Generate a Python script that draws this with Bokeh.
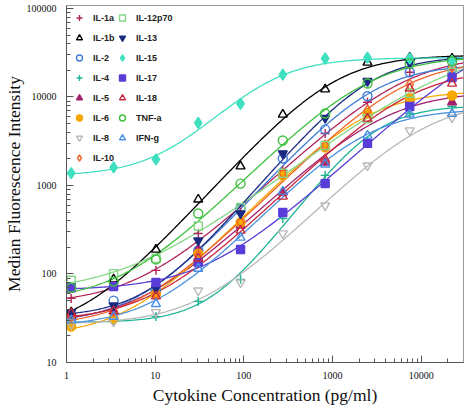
import numpy as np
from bokeh.plotting import figure
from bokeh.models import FixedTicker, PrintfTickFormatter, Legend, LegendItem
from bokeh.embed import file_html
from bokeh.resources import INLINE

# ---------------- data ----------------
concentrations = [1.13, 3.4, 10.2, 30.6, 91.8, 275, 826, 2480, 7430, 22300]

series_names = ["IL-1a", "IL-1b", "IL-2", "IL-4", "IL-5", "IL-6", "IL-8", "IL-10",
                "IL-12p70", "IL-13", "IL-15", "IL-17", "IL-18", "TNF-a", "IFN-g"]

il1a = [53, 72, 110, 287, 495, 1480, 3870, 8730, 19000, 21000]
il1b = [37, 87, 189, 695, 1650, 6340, 12200, 24500, 27900, 27200]
il2 = [31, 50, 65, 184, 550, 2020, 4300, 10200, 19000, 21000]
il4 = [27.6, 30, 33, 49, 87, 424, 1300, 3220, 6510, 7810]
il5 = [34, 38, 65, 189, 353, 834, 1820, 6510, 9370, 8730]
il6 = [25.5, 31, 59, 170, 382, 1300, 2690, 6510, 9620, 10400]
il8 = [27, 29, 37, 65, 80, 287, 594, 1680, 4180, 5870]
il10 = [33, 38, 60, 162, 385, 1370, 2830, 7030, 13800, 21700]
il12p70 = [85, 101, 150, 349, 564, 1370, 2830, 5670, 11000, 19000]
il13 = [37, 44, 69, 239, 483, 2300, 5790, 15100, 24500, 25800]
il15 = [1380, 1600, 1970, 5110, 8380, 17900, 27200, 27900, 27200, 25800]
il17 = [70, 72, 80, 135, 189, 495, 1050, 2990, 7810, 16600]
il18 = [36, 38, 56, 150, 310, 750, 1970, 5710, 12500, 14200]
tnfa = [70, 82, 146, 483, 1050, 3220, 6500, 14200, 23900, 25200]
ifng = [30, 33, 46, 115, 258, 855, 1730, 3670, 6340, 6450]

x_ticks = [1, 10, 100, 1000, 10000]
y_ticks = [10, 100, 1000, 10000, 100000]

series_values = [il1a, il1b, il2, il4, il5, il6, il8, il10,
                 il12p70, il13, il15, il17, il18, tnfa, ifng]

# ---------------- styles ----------------
styles = [
    ("cross", "#B0245A", False, 9),
    ("triangle", "#000000", False, 9),
    ("circle", "#3D7DD8", False, 9),
    ("cross", "#1DB394", False, 9),
    ("triangle", "#A0206E", True, 9),
    ("circle", "#F5A800", True, 9),
    ("inverted_triangle", "#B8B8B8", False, 9),
    ("diamond", "#F0642A", False, 11),
    ("square", "#84D684", False, 8),
    ("inverted_triangle", "#1B2A80", True, 9),
    ("diamond", "#3FE0C0", True, 11),
    ("square", "#5A3CD8", True, 8),
    ("triangle", "#C8283C", False, 9),
    ("circle", "#3EC03E", False, 9),
    ("triangle", "#4A90E2", False, 9),
]


def fit_4pl(x, y):
    """Least-squares 4-parameter logistic fit (grid over slope/midpoint)."""
    x = np.asarray(x, float)
    y = np.asarray(y, float)
    lx = np.log10(x)
    ly = np.log10(y)
    w = 1.0 / y
    Cs = np.arange(-0.5, 5.5, 0.01)
    best_err = np.inf
    best = None
    for B in np.arange(0.4, 3.01, 0.02):
        with np.errstate(all="ignore"):
            g = 1.0 / (1.0 + 10 ** ((lx[None, :] - Cs[:, None]) * B))
            a1 = g * w
            a2 = (1 - g) * w
            s11 = (a1 * a1).sum(1)
            s12 = (a1 * a2).sum(1)
            s22 = (a2 * a2).sum(1)
            t1 = a1.sum(1)
            t2 = a2.sum(1)
            det = s11 * s22 - s12 ** 2
            A = (t1 * s22 - t2 * s12) / det
            D = (s11 * t2 - s12 * t1) / det
            model = A[:, None] * g + D[:, None] * (1 - g)
            ok = np.all(np.isfinite(model), axis=1) & np.all(model > 0, axis=1)
            err = ((np.log10(np.where(model > 0, model, 1e-9)) - ly) ** 2).sum(1)
        err = np.where(ok & np.isfinite(err), err, np.inf)
        i = int(np.argmin(err))
        if err[i] < best_err:
            best_err = err[i]
            best = (A[i], D[i], Cs[i], B)
    return best


xs_curve = np.logspace(0, np.log10(30000), 300)

p = figure(width=468, height=408, x_axis_type="log", y_axis_type="log",
           x_range=(1, 30000), y_range=(10, 108000),
           output_backend="svg", toolbar_location=None,
           min_border_left=66, min_border_right=5, min_border_top=5, min_border_bottom=46)

p.xgrid.visible = False
p.ygrid.visible = False
p.outline_line_color = "#9A9A9A"
p.outline_line_width = 1
p.background_fill_color = "white"
p.border_fill_color = "white"

# fitted curves
for vals, (marker, color, filled, size) in zip(series_values, styles):
    fit = fit_4pl(concentrations, vals)
    if fit is None:
        p.line(concentrations, vals, line_color=color, line_width=1.3)
        continue
    A, D, C, B = fit
    lc = np.log10(xs_curve)
    ycurve = D + (A - D) / (1.0 + 10 ** ((lc - C) * B))
    p.line(xs_curve, ycurve, line_color=color, line_width=1.3)

items = []
for name, vals, (marker, color, filled, size) in zip(series_names, series_values, styles):
    r = p.scatter(concentrations, vals, marker=marker, size=size,
                  line_color=color, line_width=1.4,
                  fill_color=color if filled else "white",
                  fill_alpha=1.0 if filled else 0.0)
    items.append(LegendItem(label=name, renderers=[r]))

legend_style = dict(background_fill_alpha=0, border_line_alpha=0,
                    label_text_font="Liberation Sans", label_text_font_style="bold",
                    label_text_font_size="9px", label_text_color="#222222",
                    glyph_width=16, glyph_height=15, label_height=15, spacing=5,
                    label_standoff=6, padding=5, margin=0, orientation="vertical")
legend1 = Legend(items=items[:8], location="top_left", **legend_style)
legend2 = Legend(items=items[8:], location=(43, 212), **legend_style)
p.add_layout(legend1)
p.add_layout(legend2)

minor_x = [m * 10 ** e for e in range(0, 5) for m in range(2, 10) if m * 10 ** e < 30000]
minor_y = [m * 10 ** e for e in range(1, 5) for m in range(2, 10)]

for ax, ticks, minors, label in ((p.xaxis[0], x_ticks, minor_x, "Cytokine Concentration (pg/ml)"),
                                 (p.yaxis[0], y_ticks, minor_y, "Median Fluorescence Intensity")):
    ax.ticker = FixedTicker(ticks=ticks, minor_ticks=minors)
    ax.formatter = PrintfTickFormatter(format="%d")
    ax.axis_label = label
    ax.axis_label_text_font = "Liberation Serif"
    ax.axis_label_text_font_size = "17.5px"
    ax.axis_label_text_font_style = "normal"
    ax.axis_label_text_color = "#111111"
    ax.major_label_text_font = "Liberation Serif"
    ax.major_label_text_font_size = "10px"
    ax.major_label_text_color = "#111111"
    ax.axis_line_color = "#555555"
    ax.major_tick_line_color = "#555555"
    ax.minor_tick_line_color = "#555555"
    ax.major_tick_in = 7
    ax.major_tick_out = 0
    ax.minor_tick_in = 4
    ax.minor_tick_out = 0

p.xaxis.major_label_standoff = 9
p.xaxis.axis_label_standoff = 3
p.yaxis.major_label_standoff = 10
p.yaxis.axis_label_standoff = 0

open("out.html", "w").write(file_html(p, INLINE))
